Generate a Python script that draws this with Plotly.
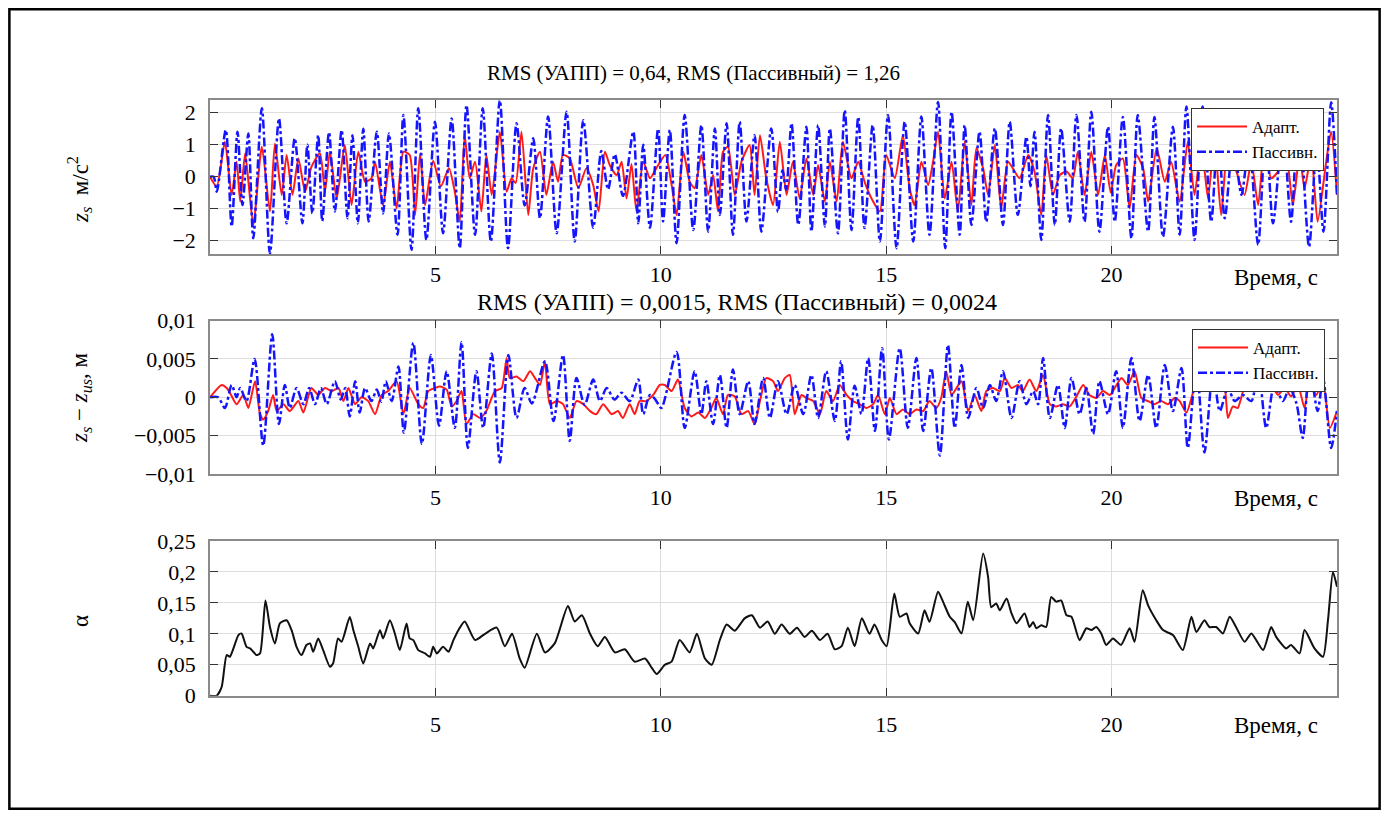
import plotly.graph_objects as go

# ---------------- data ----------------
# Panel 1: body acceleration z_s, m/s^2
t_acc_pas = [0, 0.08, 0.15, 0.35, 0.48, 0.61, 0.72, 0.85, 0.96, 1.15, 1.33, 1.53, 1.70, 1.88, 2.05, 2.16, 2.27, 2.40,
             2.49, 2.64, 2.77, 2.92, 3.05, 3.16, 3.28, 3.40, 3.52, 3.70, 3.84, 3.97, 4.16, 4.29, 4.47, 4.62, 4.80, 4.99,
             5.17, 5.36, 5.54, 5.69, 5.88, 6.05, 6.23, 6.43, 6.61, 6.80, 6.98, 7.17, 7.32, 7.50, 7.69, 7.91, 8.09, 8.28,
             8.50, 8.68, 8.83, 8.98, 9.16, 9.39, 9.50, 9.61, 9.76, 9.94, 10.05, 10.20, 10.35, 10.53, 10.72, 10.90, 11.05,
             11.20, 11.31, 11.46, 11.60, 11.75, 11.90, 12.08, 12.23, 12.45, 12.60, 12.70, 12.78, 12.90, 13.05, 13.23,
             13.34, 13.49, 13.64, 13.75, 13.93, 14.08, 14.23, 14.38, 14.52, 14.70, 14.86, 15.04, 15.23, 15.41, 15.60,
             15.78, 15.96, 16.15, 16.31, 16.45, 16.63, 16.74, 16.89, 17.07, 17.22, 17.41, 17.59, 17.74, 17.92, 18.11,
             18.20, 18.29, 18.44, 18.59, 18.74, 18.88, 19.07, 19.22, 19.40, 19.55, 19.73, 19.92, 20.07, 20.25, 20.44,
             20.58, 20.81, 20.95, 21.14, 21.36, 21.51, 21.66, 21.84, 22.02, 22.21, 22.36, 22.51, 22.70, 22.88, 23.05,
             23.25, 23.42, 23.58, 23.80, 23.98, 24.15, 24.38, 24.55, 24.70, 24.87, 25.00]
acc_pas = [0, 0.0, -0.47, 1.46, -1.56, 1.41, -0.89, 1.35, -1.93, 2.14, -2.40, 1.82, -1.46, 1.20, -1.46, 1.00, -1.15, 1.30,
           -1.39, 1.39, -1.09, 1.46, -1.30, 1.30, -1.46, 1.50, -1.40, 1.41, -1.15, 1.35, -1.82, 1.93, -2.29, 2.14, -1.98, 1.72,
           -1.77, 1.82, -2.24, 2.24, -1.82, 2.14, -2.03, 2.40, -2.24, 1.67, -0.90, 1.20, -1.30, 1.88, -1.77, 2.03, -2.03, 1.77,
           -1.60, 0.80, -0.40, 0.70, -0.60, 1.41, -1.46, 1.00, -1.60, 1.50, -1.40, 1.46, -2.08, 1.93, -1.67, 1.61, -1.72,
           1.51, -1.20, 1.67, -1.82, 1.72, -1.40, 1.30, -1.72, 1.51, -1.10, 0.20, -0.40, 1.67, -1.51, 1.56,
           -1.72, 1.61, -1.56, 1.51, -1.77, 2.08, -1.67, 1.87, -1.61, 1.61, -2.03, 1.93, -2.24, 1.72, -2.03,
           1.88, -1.82, 2.34, -2.24, 2.03, -1.82, 1.61, -1.51, 1.41, -1.41, 1.51, -1.51, 1.72, -1.20, 1.25,
           -0.30, 1.41, -1.98, 1.93, -1.51, 1.51, -1.41, 1.93, -1.41, 2.03, -1.72, 1.56, -1.41, 1.87, -1.93,
           1.93, -1.72, 1.87, -1.88, 1.56, -1.82, 2.20, -1.98, 2.20, -1.41, 1.50, -1.30, 1.10, -0.57, 1.00,
           -2.14, 1.50, -1.46, 1.50, -1.41, 2.10, -2.19, 1.00, -1.72, 2.33, -0.57]

t_acc_ad = [0, 0.15, 0.33, 0.48, 0.59, 0.67, 0.78, 0.96, 1.15, 1.33, 1.44, 1.59, 1.70, 1.83, 1.96, 2.11, 2.25, 2.44, 2.55,
            2.66, 2.81, 2.99, 3.14, 3.29, 3.44, 3.58, 3.66, 3.84, 3.99, 4.14, 4.29, 4.43, 4.55, 4.66, 4.77, 4.95, 5.12,
            5.30, 5.43, 5.54, 5.65, 5.76, 5.88, 6.02, 6.13, 6.25, 6.43, 6.58, 6.69, 6.78, 6.91, 7.06, 7.17, 7.32, 7.46,
            7.61, 7.72, 7.83, 7.98, 8.17, 8.35, 8.50, 8.62, 8.76, 8.87, 9.02, 9.13, 9.24, 9.35, 9.46, 9.61, 9.76, 9.90,
            10.10, 10.24, 10.35, 10.50, 10.64, 10.75, 10.90, 11.05, 11.16, 11.27, 11.38, 11.49, 11.64, 11.79, 11.97,
            12.08, 12.20, 12.34, 12.49, 12.64, 12.79, 12.93, 13.08, 13.23, 13.38, 13.49, 13.64, 13.75, 13.90, 14.04,
            14.23, 14.38, 14.52, 14.71, 14.86, 15.00, 15.19, 15.37, 15.52, 15.63, 15.78, 15.93, 16.04, 16.15, 16.30,
            16.45, 16.59, 16.74, 16.89, 17.00, 17.15, 17.26, 17.41, 17.55, 17.70, 17.81, 17.96, 18.15, 18.29, 18.44,
            18.55, 18.70, 18.85, 19.00, 19.14, 19.25, 19.40, 19.55, 19.70, 19.85, 19.98, 20.10, 20.25, 20.40, 20.55,
            20.70, 20.81, 21.00, 21.18, 21.32, 21.51, 21.69, 21.84, 21.99, 22.14, 22.28, 22.43, 22.58, 22.77, 22.95,
            23.10, 23.25, 23.39, 23.54, 23.69, 23.87, 24.02, 24.17, 24.28, 24.43, 24.57, 24.76, 24.87, 25.00]
acc_ad = [0, -0.31, 1.09, -0.57, 0.47, -0.78, 0.73, -1.51, 0.94, -1.09, 1.04, -0.57, 0.68, -0.57, 0.57, -0.47, 0.31, 0.73, -0.47,
          0.78, -0.68, 0.99, -0.89, 0.78, -0.16, -0.05, 0.47, -0.89, 0.47, -0.99, 0.78, 0.68, -1.20, 0.73, -0.89, 0.50, -0.30,
          0.26, -0.47, -1.41, 1.30, -0.05, 0.47, -1.09, 0.68, -0.57, 1.41, -0.47, -0.05, -0.20, 1.41, -1.20, 0.26, 0.78, -0.57,
          0.47, -0.16, 0.68, 0.57, -0.36, 0.26, -0.26, -1.09, 0.78, 0.36, 0.05, 0.47, -0.68, 0.40, -1.09, 0.47, -0.05, 0.26,
          0.68, -0.26, -1.20, 0.78, -0.16, -0.36, 0.68, -0.57, 0.05, -1.09, 0.78, 0.94, -0.57, 0.47, 0.99,
          -0.57, 1.30, -0.05, -0.89, 1.09, -0.57, 0.47, -0.68, 0.57, -0.57, 0.36, -0.78, 0.47, -0.78, 1.09,
          -0.05, 0.47, -0.16, -0.78, -1.09, 0.68, -0.05, 1.30, -0.36, -0.89, 0.47, -0.26, 0.47, 1.41, -0.68,
          0.47, -1.09, 1.09, -0.89, 0.89, 0.26, -0.57, 0.99, -0.99, 0.47, 0.26, -0.05, 0.68, 0.16, -1.20,
          0.68, -0.57, 0.05, 0.16, -0.05, 0.78, -0.57, 0.78, -0.57, 0.68, -0.50, 0.36, 0.57, -0.99, 0.68,
          0.26, -0.78, 0.89, -0.16, 0.47, -0.78, 1.09, -0.57, 0.99, -0.68, 1.20, -1.20, 0.99, 0.16, -0.57,
          0.47, -0.89, 0.99, -0.05, 0.16, 0.68, -0.89, 0.68, -0.36, 0.68, -1.41, 0.47, 1.41, -0.57]

# Panel 2: suspension travel z_s - z_us, m
t_def_pas = [0, 0.18, 0.33, 0.48, 0.59, 0.67, 0.81, 0.99, 1.18, 1.38, 1.53, 1.66, 1.77, 1.92, 2.07, 2.20, 2.33, 2.46, 2.59,
             2.77, 2.90, 3.00, 3.10, 3.22, 3.32, 3.44, 3.58, 3.70, 3.80, 3.90, 4.03, 4.18, 4.30, 4.51, 4.70, 4.90, 5.08,
             5.25, 5.43, 5.58, 5.72, 5.91, 6.06, 6.25, 6.43, 6.62, 6.80, 6.98, 7.14, 7.43, 7.62, 7.83, 7.98, 8.13, 8.31,
             8.50, 8.65, 8.80, 8.97, 9.13, 9.31, 9.50, 9.61, 9.76, 9.88, 10.01, 10.35, 10.53, 10.75, 10.90, 11.01, 11.16,
             11.31, 11.46, 11.60, 11.75, 11.94, 12.08, 12.27, 12.42, 12.60, 12.79, 12.97, 13.16, 13.34, 13.49, 13.67,
             13.86, 14.00, 14.15, 14.30, 14.45, 14.60, 14.75, 14.91, 15.06, 15.30, 15.48, 15.67, 15.82, 16.00, 16.19,
             16.37, 16.52, 16.67, 16.82, 17.00, 17.15, 17.30, 17.44, 17.59, 17.78, 17.96, 18.11, 18.26, 18.37, 18.48,
             18.63, 18.81, 18.96, 19.11, 19.29, 19.44, 19.59, 19.73, 19.92, 20.10, 20.25, 20.44, 20.62, 20.81, 20.99,
             21.18, 21.36, 21.55, 21.69, 21.88, 22.06, 22.25, 22.40, 22.58, 22.73, 22.91, 23.10, 23.25, 23.43, 23.61,
             23.80, 23.95, 24.10, 24.24, 24.39, 24.57, 24.69, 24.87, 25.00]
def_pas = [0, 0, -0.0014, 0.0016, 0.0, 0.0012, -0.0005, 0.0050, -0.0063, 0.0082, -0.0035, 0.0016, -0.0014, 0.0012, -0.0009,
           0.0012, -0.0009, 0.0012, -0.0009, 0.0021, -0.0003, 0.0012, -0.0025, 0.0021, -0.0020, 0.0012, -0.0005, 0.0010,
           -0.0006, 0.0021, -0.0005, 0.0040, -0.0046, 0.0071, -0.0061, 0.0055, -0.0037, 0.0034, -0.0040, 0.0072, -0.0066,
           0.0034, -0.0040, 0.0057, -0.0085, 0.0055, -0.0027, 0.0012, -0.0008, 0.0047, -0.0031, 0.0055, -0.0057, 0.0025,
           -0.0010, 0.0023, -0.0005, 0.0012, -0.0003, 0.0006, -0.0005, 0.0023, -0.0022, 0.0003, -0.0003, -0.0014, 0.0059,
           -0.0040, 0.0034, -0.0022, 0.0021, -0.0035, 0.0029, -0.0040, 0.0036, -0.0022, 0.0021, -0.0035, 0.0025, -0.0027,
           0.0021, -0.0022, 0.0016, -0.0022, 0.0029, -0.0027, 0.0034, -0.0031, 0.0047, -0.0055, 0.0015, -0.0022, 0.0051,
           -0.0044, 0.0064, -0.0055, 0.0064, -0.0040, 0.0051, -0.0044, 0.0038, -0.0076, 0.0068, -0.0040, 0.0042, -0.0027,
           0.0012, -0.0014, 0.0016, -0.0005, 0.0034, -0.0027, 0.0021, -0.0009, 0.0008, -0.0009, 0.0051, -0.0027, 0.0016,
           -0.0040, 0.0025, -0.0022, 0.0012, -0.0048, 0.0021, -0.0022, 0.0034, -0.0040, 0.0051, -0.0031, 0.0029, -0.0040,
           0.0042, -0.0018, 0.0038, -0.0066, 0.0042, -0.0072, 0.0034, -0.0018, 0.0012, -0.0005, 0.0003, -0.0005, 0.0038,
           -0.0040, 0.0016, -0.0005, 0.0012, -0.0008, -0.0053, 0.0040, -0.0018, 0.0025, -0.0066, -0.0018]

t_def_ad = [0, 0.26, 0.37, 0.45, 0.59, 0.74, 0.85, 1.00, 1.11, 1.18, 1.29, 1.40, 1.48, 1.63, 1.77, 1.96, 2.07, 2.25, 2.40,
            2.55, 2.70, 2.85, 2.96, 3.07, 3.22, 3.36, 3.51, 3.66, 3.81, 3.95, 4.14, 4.29, 4.43, 4.62, 4.73, 4.84, 4.99,
            5.10, 5.25, 5.36, 5.47, 5.58, 5.69, 5.84, 5.99, 6.13, 6.32, 6.47, 6.58, 6.65, 6.80, 6.95, 7.10, 7.21, 7.32,
            7.43, 7.54, 7.69, 7.83, 7.98, 8.13, 8.28, 8.43, 8.57, 8.72, 8.91, 9.05, 9.16, 9.31, 9.42, 9.53, 9.68, 9.83,
            9.98, 10.09, 10.24, 10.38, 10.53, 10.68, 10.83, 10.98, 11.12, 11.23, 11.38, 11.49, 11.64, 11.79, 11.94,
            12.08, 12.20, 12.34, 12.49, 12.60, 12.75, 12.86, 12.97, 13.12, 13.23, 13.38, 13.53, 13.67, 13.82, 13.97,
            14.12, 14.26, 14.41, 14.56, 14.71, 14.82, 14.97, 15.08, 15.23, 15.37, 15.52, 15.67, 15.82, 15.96, 16.11,
            16.22, 16.33, 16.45, 16.56, 16.67, 16.82, 16.96, 17.11, 17.22, 17.37, 17.52, 17.63, 17.78, 17.92, 18.03,
            18.18, 18.33, 18.48, 18.63, 18.77, 18.92, 19.07, 19.22, 19.37, 19.51, 19.66, 19.81, 19.96, 20.07, 20.22,
            20.36, 20.51, 20.66, 20.81, 20.95, 21.10, 21.25, 21.40, 21.51, 21.66, 21.84, 21.99, 22.10, 22.25, 22.40,
            22.51, 22.58, 22.69, 22.80, 22.95, 23.10, 23.25, 23.39, 23.54, 23.69, 23.84, 23.98, 24.13, 24.28, 24.39,
            24.54, 24.69, 24.84, 25.00]
def_ad = [0, 0.0016, 0.0012, 0.0005, -0.0009, 0.0003, -0.0014, 0.0021, -0.0022, -0.0029, -0.0018, 0.0003, -0.0018, -0.0009,
          -0.0018, -0.0005, -0.0020, 0.0012, 0.0003, 0.0012, 0.0008, 0.0012, -0.0005, 0.0012, -0.0009, 0.0, -0.0005, -0.0022,
          0.0003, 0.0008, 0.0021, -0.0022, 0.0012, -0.0009, -0.0014, 0.0008, 0.0012, 0.0014, 0.0010, -0.0012, -0.0005,
          0.0008, -0.0035, -0.0022, -0.0027, -0.0018, 0.0008, 0.0012, 0.0051, 0.0025, 0.0027, 0.0021, 0.0034, 0.0025,
          0.0016, 0.0047, -0.0009, -0.0005, -0.0009, -0.0027, -0.0005, -0.0009, -0.0018, -0.0022, -0.0009, -0.0022,
          -0.0018, -0.0027, -0.0009, -0.0022, -0.0005, -0.0005, 0.0003, 0.0016, 0.0016, 0.0008, 0.0023, -0.0014, -0.0025,
          -0.0020, -0.0027, -0.0014, -0.0001, -0.0022, 0.0003, 0.0001, -0.0022, -0.0018, -0.0035, -0.0005, 0.0025,
          0.0021, 0.0008, 0.0025, 0.0029, -0.0022, 0.0003, -0.0001, -0.0005, -0.0022, 0.0008, -0.0005, 0.0016, 0.0003,
          -0.0005, -0.0009, -0.0014, -0.0009, 0.0003, -0.0022, -0.0001, -0.0022, -0.0016, -0.0022, -0.0016, -0.0018,
          -0.0005, -0.0014, -0.0001, 0.0034, 0.0003, 0.0012, 0.0021, -0.0018, 0.0003, -0.0018, 0.0008, 0.0012, 0.0008,
          0.0025, 0.0012, 0.0016, 0.0008, 0.0023, 0.0008, 0.0029, -0.0009, -0.0012, -0.0009, -0.0012, 0.0001, 0.0016,
          0.0003, -0.0001, 0.0008, 0.0003, 0.0012, 0.0025, 0.0016, 0.0034, -0.0001, -0.0005, -0.0009, -0.0005, -0.0009,
          -0.0001, -0.0005, -0.0020, 0.0012, 0.0025, 0.0016, 0.0023, 0.0021, 0.0012, -0.0027, -0.0012, -0.0014, 0.0012,
          0.0008, 0.0029, 0.0012, 0.0016, 0.0003, 0.0012, 0.0001, 0.0016, -0.0014, 0.0021, 0.0003, 0.0021, -0.0040, -0.0018]

# Panel 3: adaptation coefficient alpha
t_alpha = [0, 0.15, 0.26, 0.37, 0.44, 0.52, 0.63, 0.70, 0.81, 0.89, 0.96, 1.03, 1.11, 1.23, 1.33, 1.44, 1.55, 1.70, 1.81,
           1.92, 2.03, 2.14, 2.22, 2.29, 2.40, 2.51, 2.66, 2.73, 2.84, 2.92, 3.10, 3.18, 3.29, 3.40, 3.55, 3.62, 3.77, 3.84,
           3.99, 4.10, 4.21, 4.36, 4.43, 4.51, 4.62, 4.77, 4.88, 4.95, 5.03, 5.17, 5.29, 5.40, 5.51, 5.65, 5.88, 6.10, 6.36,
           6.54, 6.70, 6.87, 6.98, 7.25, 7.43, 7.65, 7.94, 8.09, 8.25, 8.43, 8.60, 8.76, 8.98, 9.20, 9.42, 9.65, 9.80, 9.91,
           10.09, 10.24, 10.42, 10.64, 10.80, 10.98, 11.13, 11.31, 11.46, 11.64, 11.86, 12.02, 12.20, 12.37, 12.53, 12.68,
           12.86, 13.02, 13.19, 13.35, 13.53, 13.70, 13.86, 14.01, 14.15, 14.30, 14.46, 14.63, 14.74, 14.90, 15.01, 15.18,
           15.30, 15.45, 15.52, 15.71, 15.85, 15.96, 16.15, 16.26, 16.41, 16.52, 16.67, 16.81, 16.93, 17.15, 17.26, 17.33,
           17.44, 17.52, 17.67, 17.78, 17.89, 18.07, 18.18, 18.26, 18.33, 18.44, 18.55, 18.66, 18.77, 18.88, 19.00, 19.11,
           19.29, 19.44, 19.55, 19.66, 19.77, 19.88, 20.03, 20.21, 20.40, 20.51, 20.69, 20.81, 20.99, 21.14, 21.36, 21.58,
           21.77, 21.88, 22.06, 22.17, 22.32, 22.47, 22.62, 22.76, 22.95, 23.10, 23.36, 23.54, 23.65, 23.87, 23.98, 24.17,
           24.28, 24.50, 24.69, 24.80, 24.91, 25.00]
alpha = [0, 0, 0.0145, 0.0656, 0.063, 0.0764, 0.098, 0.1006, 0.079, 0.0764, 0.071, 0.0656, 0.0683, 0.154, 0.111, 0.0845,
         0.1167, 0.122, 0.1059, 0.079, 0.0656, 0.082, 0.0845, 0.071, 0.0925, 0.0737, 0.0468, 0.0522, 0.0925, 0.0872, 0.127,
         0.1059, 0.079, 0.0522, 0.0845, 0.0764, 0.1059, 0.0925, 0.122, 0.1006, 0.0737, 0.1167, 0.0925, 0.0898, 0.0737,
         0.0683, 0.063, 0.079, 0.0683, 0.079, 0.071, 0.0898, 0.1059, 0.12, 0.09, 0.10, 0.11, 0.08, 0.10, 0.06, 0.045,
         0.10, 0.07, 0.085, 0.145, 0.12, 0.13, 0.10, 0.08, 0.095, 0.07, 0.075, 0.055, 0.06, 0.045, 0.035, 0.05, 0.055,
         0.09, 0.07, 0.10, 0.06, 0.05, 0.09, 0.115, 0.105, 0.125, 0.13, 0.11, 0.12, 0.10, 0.115, 0.10, 0.11, 0.095,
         0.105, 0.09, 0.10, 0.075, 0.08, 0.11, 0.08, 0.125, 0.10, 0.115, 0.09, 0.08, 0.165, 0.1275, 0.133, 0.117, 0.1006,
         0.138, 0.1194, 0.168, 0.152, 0.1275, 0.119, 0.1006, 0.152, 0.122, 0.2296, 0.192, 0.143, 0.149, 0.138, 0.157,
         0.133, 0.117, 0.133, 0.111, 0.119, 0.109, 0.114, 0.111, 0.1597, 0.152, 0.154, 0.130, 0.1275, 0.0898, 0.109,
         0.106, 0.111, 0.1006, 0.082, 0.0925, 0.082, 0.109, 0.0872, 0.1705, 0.146, 0.122, 0.106, 0.098, 0.0737, 0.1275,
         0.103, 0.122, 0.111, 0.111, 0.1006, 0.1275, 0.111, 0.0872, 0.1006, 0.0737, 0.111, 0.095, 0.0764, 0.082, 0.0683,
         0.106, 0.0764, 0.063, 0.122, 0.20, 0.176]

x_ticks = [5, 10, 15, 20]
y1_ticks = [-2, -1, 0, 1, 2]
y1_text = ["−2", "−1", "0", "1", "2"]
y2_ticks = [-0.01, -0.005, 0, 0.005, 0.01]
y2_text = ["−0,01", "−0,005", "0", "0,005", "0,01"]
y3_ticks = [0, 0.05, 0.1, 0.15, 0.2, 0.25]
y3_text = ["0", "0,05", "0,1", "0,15", "0,2", "0,25"]

title1 = "RMS (УАПП) = 0,64, RMS (Пассивный) = 1,26"
title2 = "RMS (УАПП) = 0,0015, RMS (Пассивный) = 0,0024"
name_ad = "Адапт."
name_pas = "Пассивн."
xlabel = "Время, с"

# ---------------- figure ----------------
# The page keeps the browser's default 8 px body margin, so the figure is
# sized to fit exactly inside the 1389x818 window at offset (8, 8).
OX, OY = 8, 8
W, H = 1389 - 2 * OX, 818 - 2 * OY
FONT = "Liberation Serif"
RED = "#ff1a1a"
BLUE = "#1414ff"


def px(x):
    return (x - OX) / W


def py(y):
    return 1 - (y - OY) / H


fig = go.Figure()

fig.add_trace(go.Scatter(x=t_acc_ad, y=acc_ad, name=name_ad, mode="lines",
                         line=dict(color=RED, width=2, shape="spline", smoothing=0.6),
                         xaxis="x", yaxis="y", legend="legend"))
fig.add_trace(go.Scatter(x=t_acc_pas, y=acc_pas, name=name_pas, mode="lines",
                         line=dict(color=BLUE, width=2.5, dash="dashdot", shape="spline", smoothing=0.8),
                         xaxis="x", yaxis="y", legend="legend"))
fig.add_trace(go.Scatter(x=t_def_ad, y=def_ad, name=name_ad, mode="lines",
                         line=dict(color=RED, width=2, shape="spline", smoothing=0.6),
                         xaxis="x2", yaxis="y2", legend="legend2"))
fig.add_trace(go.Scatter(x=t_def_pas, y=def_pas, name=name_pas, mode="lines",
                         line=dict(color=BLUE, width=2.5, dash="dashdot", shape="spline", smoothing=0.8),
                         xaxis="x2", yaxis="y2", legend="legend2"))
fig.add_trace(go.Scatter(x=t_alpha, y=alpha, mode="lines", showlegend=False,
                         line=dict(color="#111111", width=2, shape="spline", smoothing=0.6),
                         xaxis="x3", yaxis="y3"))

xdom = [px(210), px(1337)]
panels = [
    dict(top=100, bot=254, yr=[-2.42, 2.40], tv=y1_ticks, tt=y1_text, stand=0),
    dict(top=320.5, bot=474, yr=[-0.01, 0.01], tv=y2_ticks, tt=y2_text, stand=3),
    dict(top=541, bot=695.7, yr=[0, 0.25], tv=y3_ticks, tt=y3_text, stand=8),
]

axis_common = dict(showline=True, linecolor="#8a8a8a", linewidth=1.5, mirror="ticks",
                   ticks="inside", ticklen=8, tickcolor="#333333", tickwidth=1.2,
                   showgrid=True, gridcolor="#dedede", gridwidth=1, zeroline=False,
                   tickfont=dict(family=FONT, size=22, color="black"))

layout = dict(width=W, height=H, autosize=False, margin=dict(l=0, r=0, t=0, b=0, autoexpand=False),
              paper_bgcolor="white", plot_bgcolor="white", font=dict(family=FONT, color="black"))

for i, p in enumerate(panels):
    sfx = "" if i == 0 else str(i + 1)
    layout["xaxis" + sfx] = dict(axis_common, domain=xdom, range=[0, 25], tickvals=x_ticks,
                                 ticklabelstandoff=p["stand"], automargin=False,
                                 anchor="y" + sfx)
    layout["yaxis" + sfx] = dict(axis_common, domain=[py(p["bot"]), py(p["top"])], range=p["yr"],
                                 tickvals=p["tv"], ticktext=p["tt"], ticklabelstandoff=8, automargin=False,
                                 anchor="x" + sfx)

leg_common = dict(bgcolor="white", bordercolor="#333333", borderwidth=1,
                  font=dict(family=FONT, size=17, color="black"),
                  xanchor="right", yanchor="top", itemwidth=50, tracegroupgap=0)
layout["legend"] = dict(leg_common, x=px(1324), y=py(108))
layout["legend2"] = dict(leg_common, x=px(1325), y=py(329))


def label(text, x, y, size, angle=0):
    return dict(text=text, x=px(x), y=py(y), xref="paper", yref="paper", showarrow=False,
                xanchor="center", yanchor="middle", textangle=angle,
                font=dict(family=FONT, size=size, color="black"))


ann = [label(title1, 693, 73, 21), label(title2, 737, 302, 24)]
for yc in (277, 498, 725):
    ann.append(label(xlabel, 1276, yc, 23))
ann.append(label("<i>z<sub>s</sub></i>  м/с<sup>2</sup>", 80, 190, 23, -90))
ann.append(label("<i>z<sub>s</sub></i> − <i>z<sub>us</sub></i>, м", 81, 398, 23, -90))
ann.append(label("α", 80, 621, 23, -90))
layout["annotations"] = ann

layout["shapes"] = [dict(type="rect", xref="paper", yref="paper", x0=0.001, x1=0.999, y0=0.0015, y1=0.9985,
                         line=dict(color="black", width=2.5), fillcolor="rgba(0,0,0,0)", layer="above")]

fig.update_layout(layout)
fig.write_html("out.html", config={"displayModeBar": False})
